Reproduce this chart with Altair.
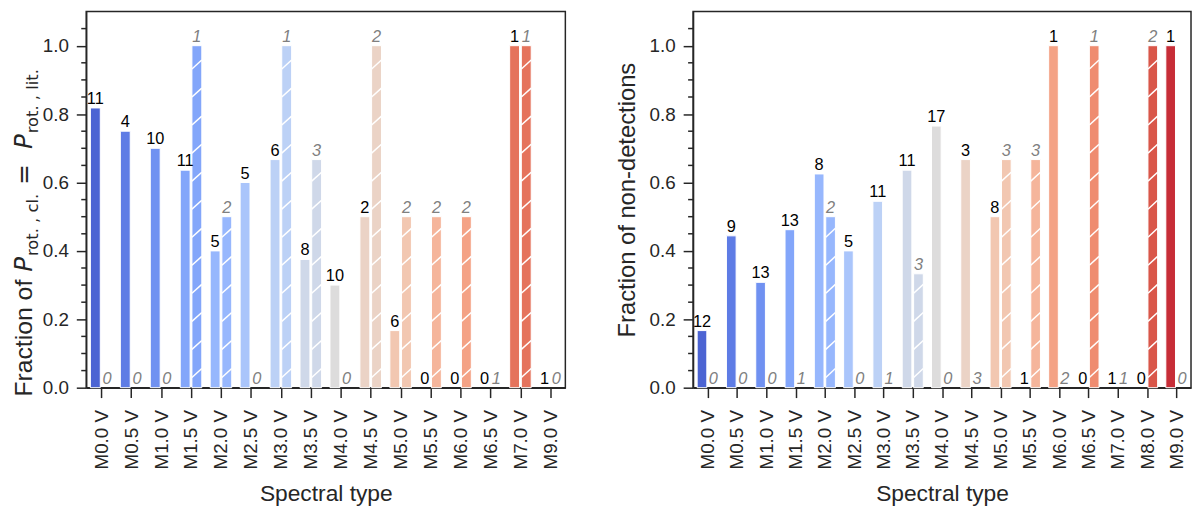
import altair as alt
import pandas as pd


# spectral types, one coolwarm colour each (shared by both panels)
all_types = ['M0.0 V', 'M0.5 V', 'M1.0 V', 'M1.5 V', 'M2.0 V', 'M2.5 V', 'M3.0 V',
             'M3.5 V', 'M4.0 V', 'M4.5 V', 'M5.0 V', 'M5.5 V', 'M6.0 V', 'M6.5 V',
             'M7.0 V', 'M8.0 V', 'M9.0 V']
palette = ['#4c64d3', '#5e7ce5', '#7091f1', '#83a6fa', '#97b7fd', '#aac5fb', '#bcd1f6',
           '#cfd8e9', '#dddcdc', '#ebd3c6', '#f2c7b1', '#f5b59b', '#f4a285', '#ef8c70',
           '#e5735c', '#d95649', '#c72d37']

# left panel: fraction of P_rot,cl = P_rot,lit
left_types = ['M0.0 V', 'M0.5 V', 'M1.0 V', 'M1.5 V', 'M2.0 V', 'M2.5 V', 'M3.0 V',
              'M3.5 V', 'M4.0 V', 'M4.5 V', 'M5.0 V', 'M5.5 V', 'M6.0 V', 'M6.5 V',
              'M7.0 V', 'M9.0 V']
left_frac = [0.818, 0.75, 0.70, 0.636, 0.40, 0.60, 0.667, 0.375, 0.30, 0.50, 0.167,
             0.0, 0.0, 0.0, 1.0, 0.0]
left_n = [11, 4, 10, 11, 5, 5, 6, 8, 10, 2, 6, 0, 0, 0, 1, 1]
left_frac_h = [0.0, 0.0, 0.0, 1.0, 0.5, 0.0, 1.0, 0.667, 0.0, 1.0, 0.5, 0.5, 0.5,
               0.0, 1.0, 0.0]
left_n_h = [0, 0, 0, 1, 2, 0, 1, 3, 0, 2, 2, 2, 2, 1, 1, 0]

# right panel: fraction of non-detections
right_types = all_types
right_frac = [0.167, 0.444, 0.308, 0.462, 0.625, 0.40, 0.545, 0.636, 0.765, 0.667,
              0.50, 0.0, 1.0, 0.0, 0.0, 0.0, 1.0]
right_n = [12, 9, 13, 13, 8, 5, 11, 11, 17, 3, 8, 1, 1, 0, 1, 0, 1]
right_frac_h = [0.0, 0.0, 0.0, 0.0, 0.5, 0.0, 0.0, 0.333, 0.0, 0.0, 0.667, 0.667,
                0.0, 1.0, 0.0, 1.0, 0.0]
right_n_h = [0, 0, 0, 1, 2, 0, 1, 3, 0, 3, 3, 3, 2, 1, 1, 2, 0]

y_major = [0.0, 0.2, 0.4, 0.6, 0.8, 1.0]
y_minor = [0.05, 0.1, 0.15, 0.25, 0.3, 0.35, 0.45, 0.5, 0.55, 0.65, 0.7, 0.75,
           0.85, 0.9, 0.95, 1.05]

INK = '#262626'


def make_frames(types, frac, n, frac_h, n_h):
    rows, segs = [], []
    for i, t in enumerate(types):
        col = palette[all_types.index(t)]
        for kind, f, c, x0, x1 in [('solid', frac[i], n[i], i - 0.36, i - 0.03),
                                   ('hatch', frac_h[i], n_h[i], i + 0.03, i + 0.36)]:
            rows.append(dict(kind=kind, frac=f, n=c, color=col, base=0.0,
                             x0=x0, x1=x1, xc=(x0 + x1) / 2))
            if kind == 'hatch':
                # '/' hatch strokes inside the bar
                y0 = 0.03
                while y0 + 0.026 <= f:
                    segs.append(dict(x0=x0, x1=x1, y0=y0, y1=y0 + 0.026))
                    y0 += 0.082
    return pd.DataFrame(rows), pd.DataFrame(segs)


def panel(types, frac, n, frac_h, n_h, width, ytitle):
    df, segs = make_frames(types, frac, n, frac_h, n_h)
    k = len(types)
    xscale = alt.Scale(domain=[-0.5, k - 0.5], nice=False, zero=False)
    yscale = alt.Scale(domain=[0, 1.1], nice=False)
    label_expr = '[' + ','.join("'%s'" % t for t in types) + '][datum.value]'
    xaxis = alt.Axis(values=list(range(k)), labelExpr=label_expr, labelAngle=270,
                     labelAlign='right', labelBaseline='middle', labelOverlap=False,
                     tickSize=10, labelPadding=12, titlePadding=14)
    yaxis = alt.Axis(values=y_major, format='.1f', labelOverlap=False, tickSize=10,
                     labelPadding=8, titlePadding=10)

    def enc_x(field):
        return alt.X(field, type='quantitative', scale=xscale, axis=xaxis,
                     title='Spectral type')

    def enc_y(field):
        return alt.Y(field, type='quantitative', scale=yscale, axis=yaxis, title=ytitle)

    bars = alt.Chart(df).transform_filter('datum.frac > 0').mark_rect(
        stroke='white', strokeWidth=1
    ).encode(
        x=enc_x('x0'), x2='x1',
        y=enc_y('frac'), y2='base',
        color=alt.Color('color:N', scale=None)
    )

    hatch = alt.Chart(segs).mark_rule(color='white', strokeWidth=1.5).encode(
        x=enc_x('x0'), x2='x1',
        y=enc_y('y0'), y2='y1'
    )

    solid_txt = alt.Chart(df).transform_filter("datum.kind == 'solid'").mark_text(
        baseline='bottom', dy=-1, fontSize=16.5, color='black'
    ).encode(x=enc_x('xc'), y=enc_y('frac'), text='n:N')

    hatch_txt = alt.Chart(df).transform_filter("datum.kind == 'hatch'").mark_text(
        baseline='bottom', dy=-1, fontSize=16.5, color='#808080', fontStyle='italic'
    ).encode(x=enc_x('xc'), y=enc_y('frac'), text='n:N')

    # minor ticks on the y axis
    minor = alt.Chart(pd.DataFrame({'v': y_minor})).mark_rule(
        color=INK, strokeWidth=1.5
    ).encode(y=enc_y('v'), x=alt.value(-5), x2=alt.value(0))

    return alt.layer(bars, hatch, solid_txt, hatch_txt, minor).properties(
        width=width, height=380)


# left y title with subscripts, built from pieces (text, font, size, style, shift, length)
title_pieces = [
    ('Fraction of ', 'Liberation Sans', 25, 'normal', 0, 126),
    ('P', 'DejaVu Sans', 25, 'italic', 0, 16),
    ('rot. , cl.', 'DejaVu Sans', 16.5, 'normal', 6, 72),
    (' = ', 'DejaVu Sans', 25, 'normal', 0, 36),
    ('P', 'DejaVu Sans', 25, 'italic', 0, 16),
    ('rot. , lit.', 'DejaVu Sans', 16.5, 'normal', 6, 72),
]

left = panel(left_types, left_frac, left_n, left_frac_h, left_n_h, 484, '')
pos = 389
title_layers = []
for txt, font, size, style, shift, length in title_pieces:
    title_layers.append(
        alt.Chart(pd.DataFrame({'t': [txt]})).mark_text(
            angle=270, align='left', baseline='alphabetic', font=font,
            fontSize=size, fontStyle=style, color=INK
        ).encode(x=alt.value(-55 + shift), y=alt.value(pos), text='t:N')
    )
    pos -= length
left = alt.layer(left, *title_layers)

right = panel(right_types, right_frac, right_n, right_frac_h, right_n_h, 503,
              'Fraction of non-detections')

chart = alt.hconcat(left, right, spacing=48).properties(
    padding={'left': 3, 'top': 0, 'right': 0, 'bottom': 0}
).configure(
    font='Liberation Sans'
).configure_view(
    stroke=INK, strokeWidth=1.5
).configure_axis(
    domainColor=INK, domainWidth=1.5, tickColor=INK, tickWidth=1.5,
    labelColor=INK, titleColor=INK, labelFont='Liberation Sans', labelFontSize=19,
    titleFont='Liberation Sans', titleFontSize=23, titleFontWeight='normal',
    grid=False, zindex=1
).configure_axisY(
    titleFontSize=24
)

chart.save('out.html', embed_options={'renderer': 'svg', 'actions': False})
